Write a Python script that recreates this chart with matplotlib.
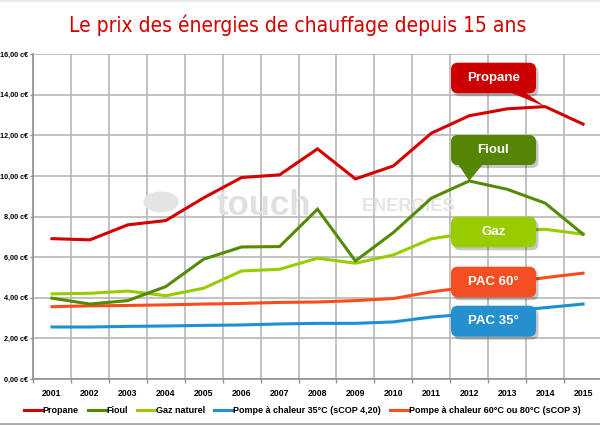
import matplotlib
matplotlib.use("Agg")
import matplotlib.pyplot as plt
from matplotlib.patches import FancyBboxPatch, Polygon
from matplotlib.lines import Line2D
import numpy as np

# ---------------- data (c€ / kWh) ----------------
years = ["2001", "2002", "2003", "2004", "2005", "2006", "2007", "2008",
         "2009", "2010", "2011", "2012", "2013", "2014", "2015"]
propane = [6.91, 6.85, 7.59, 7.80, 8.92, 9.92, 10.05, 11.33, 9.85, 10.49,
           12.10, 12.96, 13.30, 13.41, 12.55]
fioul = [3.98, 3.69, 3.86, 4.55, 5.90, 6.50, 6.52, 8.36, 5.81, 7.21,
         8.90, 9.75, 9.34, 8.66, 7.13]
gaz = [4.19, 4.22, 4.33, 4.10, 4.47, 5.32, 5.40, 5.95, 5.70, 6.11,
       6.90, 7.19, 7.29, 7.37, 7.13]
pac35 = [2.56, 2.56, 2.59, 2.61, 2.64, 2.66, 2.71, 2.74, 2.74, 2.81,
         3.05, 3.20, 3.35, 3.51, 3.69]
pac60 = [3.56, 3.60, 3.62, 3.65, 3.69, 3.72, 3.77, 3.79, 3.86, 3.96,
         4.29, 4.53, 4.73, 4.99, 5.21]
y_ticks = [0, 2, 4, 6, 8, 10, 12, 14, 16]
y_labels = ["0,00 c€", "2,00 c€", "4,00 c€", "6,00 c€", "8,00 c€",
            "10,00 c€", "12,00 c€", "14,00 c€", "16,00 c€"]
legend_names = ["Propane", "Fioul", "Gaz naturel",
                "Pompe à chaleur 35°C (sCOP 4,20)",
                "Pompe à chaleur 60°C ou 80°C (sCOP 3)"]
title = "Le prix des énergies de chauffage depuis 15 ans"

C_PROP = "#d40000"
C_FIOUL = "#558a04"
C_GAZ = "#99cc00"
C_PAC35 = "#1f8fd4"
C_PAC60 = "#ff4a1c"

FONT = ["Liberation Sans", "DejaVu Sans"]

W, H = 600, 426
fig = plt.figure(figsize=(W / 100, H / 100), dpi=100)
fig.patch.set_facecolor("white")

# axes in pixel layout
x0, x1, ytop, ybot = 33, 602, 54, 379
ax = fig.add_axes([x0 / W, (H - ybot) / H, (x1 - x0) / W, (ybot - ytop) / H])
ax.set_facecolor("none")
ax.set_xlim(-0.5, len(years) - 0.5)
ax.set_ylim(0, 16)

xs = np.arange(len(years))
lw = 2.2
for vals, col in [(pac35, C_PAC35), (pac60, C_PAC60), (gaz, C_GAZ),
                  (fioul, C_FIOUL), (propane, C_PROP)]:
    ax.plot(xs, vals, color=col, lw=lw, solid_joinstyle="miter", zorder=3)

# grid
grid_c = "#b8b8b8"
ax.set_yticks(y_ticks)
ax.set_yticklabels(y_labels, fontsize=5.2, fontweight="bold", family=FONT)
ax.set_xticks(xs)
ax.set_xticklabels(years, fontsize=6.3, fontweight="bold", family=FONT)
ax.set_xticks(np.arange(-0.5, len(years), 1.0), minor=True)
ax.tick_params(axis="x", which="major", length=0, pad=7)
ax.tick_params(axis="x", which="minor", length=3, color="#909090", width=1)
ax.tick_params(axis="y", length=2.5, color="#909090", width=1, pad=1)
ax.grid(True, axis="y", which="major", color=grid_c, lw=1.2, zorder=0)
ax.grid(True, axis="x", which="minor", color=grid_c, lw=1.2, zorder=0)
ax.set_axisbelow(True)
for s in ["top", "right"]:
    ax.spines[s].set_visible(False)
for s in ["left", "bottom"]:
    ax.spines[s].set_color("#909090")
    ax.spines[s].set_linewidth(1.2)

# watermark
ax.text(0.405, 0.535, "touch", transform=ax.transAxes, fontsize=25,
        fontweight="bold", family=FONT, color="#e0e0e0", ha="center",
        va="center", zorder=1)
ax.text(0.66, 0.53, "ENERGIES", transform=ax.transAxes, fontsize=13,
        fontweight="bold", family=FONT, color="#e4e4e4", ha="center",
        va="center", zorder=1)
ax.add_patch(plt.Circle((0.225, 0.545), 0.03, transform=ax.transAxes,
                        color="#e4e4e4", zorder=1))

# callout boxes (in axes fraction)
bx0, bx1 = (451 - x0) / (x1 - x0), (536 - x0) / (x1 - x0)
def px_to_ay(py):
    return (ybot - py) / (ybot - ytop)

def callout(label, col, ytop_px, ybot_px, tail=None):
    yb, yt = px_to_ay(ybot_px), px_to_ay(ytop_px)
    shadow_dx = 2.5 / (x1 - x0)
    shadow_dy = 3.0 / (ybot - ytop)
    sh = FancyBboxPatch((bx0 + shadow_dx, yb - shadow_dy), bx1 - bx0, yt - yb,
                        boxstyle="round,pad=0,rounding_size=0.012",
                        transform=ax.transAxes, fc="#000000", ec="none",
                        alpha=0.22, zorder=5, mutation_aspect=(x1 - x0) / (ybot - ytop))
    ax.add_patch(sh)
    box = FancyBboxPatch((bx0, yb), bx1 - bx0, yt - yb,
                         boxstyle="round,pad=0,rounding_size=0.012",
                         transform=ax.transAxes, fc=col, ec="none", zorder=6,
                         mutation_aspect=(x1 - x0) / (ybot - ytop))
    ax.add_patch(box)
    if tail is not None:
        (bxa, bxb), (tx, ty) = tail
        p_a = ax.transAxes.transform(((bxa - x0) / (x1 - x0), yb + 0.003))
        p_b = ax.transAxes.transform(((bxb - x0) / (x1 - x0), yb + 0.003))
        p_t = ax.transData.transform((tx, ty))
        inv = ax.transData.inverted()
        poly = Polygon(inv.transform([p_a, p_b, p_t]), closed=True, fc=col,
                       ec="none", zorder=6)
        ax.add_patch(poly)
    ax.text((bx0 + bx1) / 2, (yb + yt) / 2, label, transform=ax.transAxes,
            color="white", fontsize=9.5, fontweight="bold", family=FONT,
            ha="center", va="center", zorder=7)

callout("Propane", "#cc0000", 62.7, 93.3, tail=((510, 525), (13, propane[13])))
callout("Fioul", "#558504", 135, 165, tail=((458, 483), (11, fioul[11])))
callout("Gaz", "#99cc00", 216.7, 247.3)
callout("PAC 60°", "#f44f22", 266.7, 297.3)
callout("PAC 35°", "#2590cf", 305.7, 336.7)

# title (condensed face)
fig.text(297.5 / W, 1 - 25 / H, title, color="#d40000", fontsize=15,
         family="DejaVu Sans", fontstretch="condensed", ha="center", va="center")

# top and bottom separator lines
fig.add_artist(Line2D([0, 1], [1 - 1 / H, 1 - 1 / H], color="#e6e6e6", lw=1.2))
fig.add_artist(Line2D([0, 1], [1 - 423.5 / H, 1 - 423.5 / H], color="#a8a8a8", lw=1.3))

# legend
handles = [Line2D([], [], color=c, lw=2.2) for c in
           [C_PROP, C_FIOUL, C_GAZ, C_PAC35, C_PAC60]]
fig.legend(handles, legend_names, loc="center", ncol=5,
           bbox_to_anchor=(302 / W, 1 - 410.5 / H), frameon=False,
           prop={"family": FONT, "weight": "bold", "size": 6.5},
           handlelength=2.0, handletextpad=0.1, columnspacing=1.0,
           borderaxespad=0, borderpad=0)

fig.savefig("out.png", dpi=100)
